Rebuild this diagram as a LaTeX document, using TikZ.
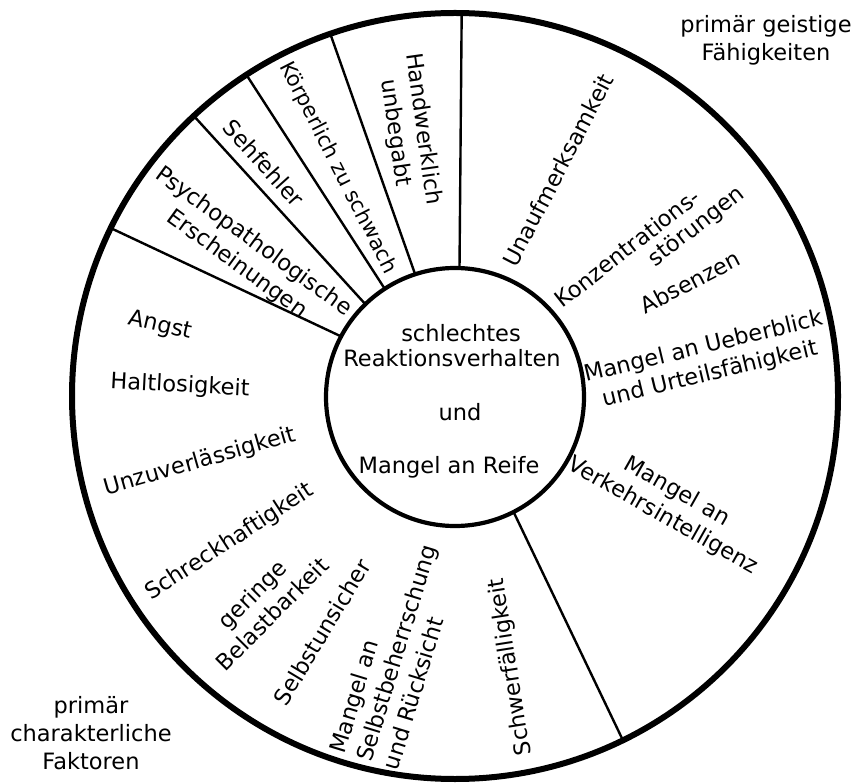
\documentclass[tikz,border=0pt]{standalone}
\usepackage{fontspec}
\setmainfont{DejaVu Sans}
\newcommand\lbf{\fontsize{22.5}{28}\selectfont}
\begin{document}
\begin{tikzpicture}[x=1pt,y=1pt,
  ring/.style={circle, draw, inner sep=0pt, outer sep=0pt},
  divider/.style={line width=2.4pt},
  lbl/.style={font=\lbf, inner sep=0pt, align=center},
  lbll/.style={font=\lbf, inner sep=0pt, align=left}]
\useasboundingbox (0,0) rectangle (866,782);
% circles
\node[ring, line width=6pt, minimum size=766pt] (outer) at (455,386) {};
\node[ring, line width=4.2pt, minimum size=258pt] (inner) at (455,385) {};
% dividers
\draw[divider] (outer.89.4) -- (inner.88.5);
\draw[divider] (outer.109.2) -- (inner.108.4);
\draw[divider] (outer.123.1) -- (inner.123);
\draw[divider] (outer.133.5) -- (inner.134.4);
\draw[divider] (outer.154.4) -- (inner.152.5);
\draw[divider] (outer.-64) -- (inner.-63);
% center text
\node[lbl] (c1) at (461,449) {schlechtes};
\node[lbl] (c2) at (452,424) {Reaktionsverhalten};
\node[lbl] (c3) at (460,370) {und};
\node[lbl] (c4) at (449,315) {Mangel an Reife};
% top sectors
\node[lbl, rotate=-82] (hand) at (409,651) {Handwerklich\\unbegabt};
\node[lbl, rotate=-63, font=\fontsize{21}{26}\selectfont] (korp) at (338,614) {Körperlich zu schwach};
\node[lbl, rotate=-48] (seh) at (264,619) {Sehfehler};
\node[lbl, rotate=-36] (psych) at (245,529) {Psychopathologische\\Erscheinungen};
% left sector
\node[lbl, rotate=-13] (angst) at (160,456) {Angst};
\node[lbl, rotate=-3] (halt) at (180,396) {Haltlosigkeit};
\node[lbl, rotate=16] (unzu) at (200,320) {Unzuverlässigkeit};
\node[lbl, rotate=33] (schreck) at (230,240) {Schreckhaftigkeit};
\node[lbl, rotate=45] (gering) at (262,178) {geringe\\Belastbarkeit};
\node[lbl, rotate=59] (selbstun) at (322,150) {Selbstunsicher};
\node[lbll, rotate=73] (mangelsel) at (396,129) {Mangel an\\Selbstbeherrschung\\und Rücksicht};
\node[lbl, rotate=99] (schwer) at (511,115) {Schwerfälligkeit};
% right sector
\node[lbl, rotate=62.5] (unauf) at (558,612) {Unaufmerksamkeit};
\node[lbl, rotate=38] (konz) at (627,534) {Konzentrations-};
\node[lbl, rotate=38] (stoer) at (697,555) {störungen};
\node[lbl, rotate=27.5] (absenz) at (690,500) {Absenzen};
\node[lbl, rotate=13.5] (ueber) at (707,421) {Mangel an Ueberblick\\und Urteilsfähigkeit};
\node[lbl, rotate=-29.5] (verkehr) at (670,278) {Mangel an\\Verkehrsintelligenz};
% outside labels
\node[lbl] (geist) at (766,742) {primär geistige\\Fähigkeiten};
\node[lbl] (charak) at (91,49) {primär\\charakterliche\\Faktoren};
\end{tikzpicture}
\end{document}
